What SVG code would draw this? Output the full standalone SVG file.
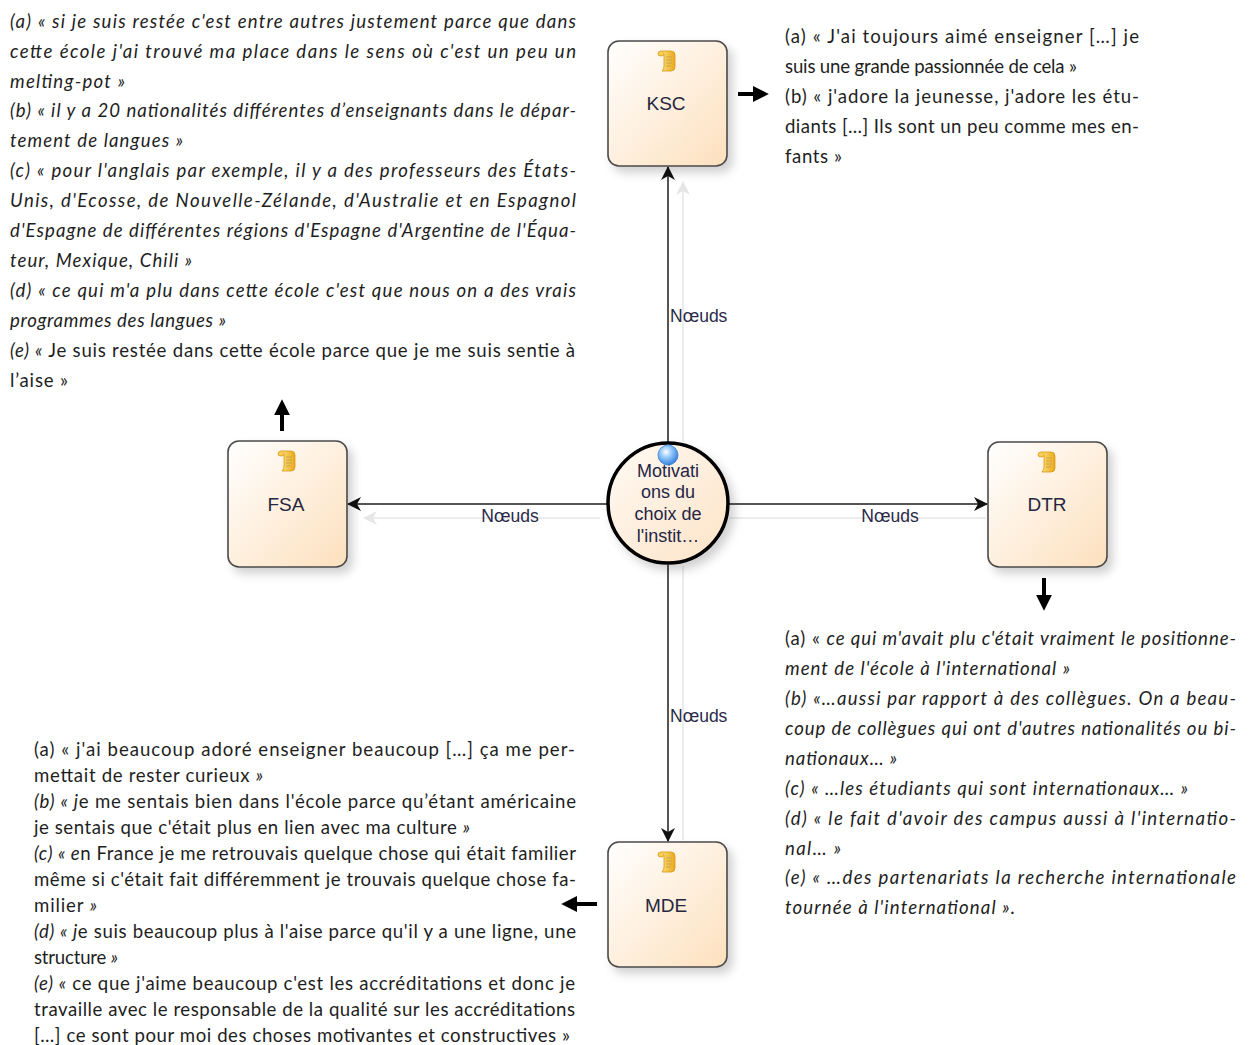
<svg xmlns="http://www.w3.org/2000/svg" width="1250" height="1045" viewBox="0 0 1250 1045">
<style>
.q{font-family:Lato,"Open Sans","Liberation Sans",sans-serif;font-size:18.6px;fill:#1e1e1e}
.i{font-style:italic}
.n{font-style:normal}
.lbl{font-family:"Liberation Sans",Arial,sans-serif;font-size:19px;fill:#262640;text-anchor:middle}
.clbl{font-family:"Liberation Sans",Arial,sans-serif;font-size:18px;fill:#252545;text-anchor:middle}
.edge{font-family:"Liberation Sans",Arial,sans-serif;font-size:17.5px;fill:#2a2a48}
.box{fill:url(#boxg);stroke:#4a4a4a;stroke-width:1.6}
.con{stroke:#555;stroke-width:2;fill:none}
.ghost{stroke:#ececec;stroke-width:2;fill:none}
.big{stroke:#000;stroke-width:4;fill:none}
</style>
<defs>
<linearGradient id="boxg" x1="0" y1="0" x2="1" y2="1">
<stop offset="0" stop-color="#ffffff"/>
<stop offset="1" stop-color="#fde0bd"/>
</linearGradient>
<linearGradient id="circg" x1="0" y1="0" x2="1" y2="1">
<stop offset="0" stop-color="#fffaf4"/>
<stop offset="1" stop-color="#fde3c6"/>
</linearGradient>
<linearGradient id="docg" x1="0" y1="0" x2="1" y2="0">
<stop offset="0" stop-color="#fbe07a"/>
<stop offset="1" stop-color="#e9a91c"/>
</linearGradient>
<radialGradient id="ball" cx="0.4" cy="0.35" r="0.7">
<stop offset="0" stop-color="#ffffff"/>
<stop offset="0.35" stop-color="#9fd0ff"/>
<stop offset="1" stop-color="#2a78d8"/>
</radialGradient>
<filter id="sh" x="-20%" y="-20%" width="150%" height="150%">
<feDropShadow dx="5" dy="6" stdDeviation="5" flood-color="#000" flood-opacity="0.18"/>
</filter>
<marker id="ah" viewBox="0 0 14 14" refX="13" refY="7" markerWidth="14" markerHeight="14" markerUnits="userSpaceOnUse" orient="auto">
<path d="M0,0 L14,7 L0,14 L4,7 Z" fill="#111"/>
</marker>
<marker id="ahg" viewBox="0 0 14 14" refX="13" refY="7" markerWidth="14" markerHeight="14" markerUnits="userSpaceOnUse" orient="auto">
<path d="M0,0 L14,7 L0,14 L4,7 Z" fill="#e6e6e6"/>
</marker>
<marker id="bh" viewBox="0 0 10 10" refX="2" refY="5" markerWidth="16" markerHeight="16" markerUnits="userSpaceOnUse" orient="auto">
<path d="M0,0 L10,5 L0,10 Z" fill="#000"/>
</marker>
<symbol id="doc" viewBox="0 0 20 24">
<path d="M4,2 H14 Q18,2 18,6 V18 Q18,22 14,22 H5 Q7,20 7,17 V6 Q7,3 4,2 Z" fill="url(#docg)" stroke="#d89a18" stroke-width="0.8"/>
<path d="M4,2 Q1,2 1,5 Q1,7 4,7 Q7,7 7,5" fill="#f7cf55" stroke="#d89a18" stroke-width="0.8"/>
<path d="M9,8 H15 M9,11 H15 M9,14 H15 M9,17 H14" stroke="#c9a24a" stroke-width="0.9"/>
</symbol>
</defs>
<rect width="1250" height="1045" fill="#fff"/>

<g id="connectors">
<line class="ghost" x1="683" y1="442" x2="683" y2="182" marker-end="url(#ahg)"/>
<line class="ghost" x1="600" y1="518" x2="364" y2="518" marker-end="url(#ahg)"/>
<line class="ghost" x1="729" y1="518" x2="986" y2="518"/>
<line class="ghost" x1="683" y1="566" x2="683" y2="840"/>
<line class="con" x1="668" y1="442" x2="668" y2="167" marker-end="url(#ah)"/>
<line class="con" x1="607" y1="504" x2="348" y2="504" marker-end="url(#ah)"/>
<line class="con" x1="729" y1="504" x2="987" y2="504" marker-end="url(#ah)"/>
<line class="con" x1="668" y1="565" x2="668" y2="841" marker-end="url(#ah)"/>
<text class="edge" x="670" y="322">Nœuds</text>
<text class="edge" x="510" y="522" text-anchor="middle">Nœuds</text>
<text class="edge" x="890" y="522" text-anchor="middle">Nœuds</text>
<text class="edge" x="670" y="722">Nœuds</text>
</g>

<g id="pointers">
<line class="big" x1="738" y1="94" x2="756" y2="94" marker-end="url(#bh)"/>
<line class="big" x1="282" y1="431" x2="282" y2="412" marker-end="url(#bh)"/>
<line class="big" x1="1044" y1="578" x2="1044" y2="598" marker-end="url(#bh)"/>
<line class="big" x1="597" y1="904" x2="574" y2="904" marker-end="url(#bh)"/>
</g>

<g id="center">
<circle cx="668" cy="503" r="60" fill="url(#circg)" stroke="#000" stroke-width="3.5" filter="url(#sh)"/>
<text class="clbl" x="668" y="477">Motivati</text>
<text class="clbl" x="668" y="498">ons du</text>
<text class="clbl" x="668" y="520">choix de</text>
<text class="clbl" x="668" y="542">l'instit…</text>
<circle cx="668" cy="455" r="10" fill="url(#ball)" stroke="#3a7fd0" stroke-width="0.8"/>
</g>

<g id="ksc">
<rect class="box" x="608" y="41" width="119" height="125" rx="11" filter="url(#sh)"/>
<use href="#doc" x="657" y="49" width="20" height="24"/>
<text class="lbl" x="666" y="110">KSC</text>
</g>
<g id="fsa">
<rect class="box" x="228" y="441" width="119" height="126" rx="11" filter="url(#sh)"/>
<use href="#doc" x="277" y="449" width="20" height="24"/>
<text class="lbl" x="286" y="511">FSA</text>
</g>
<g id="dtr">
<rect class="box" x="988" y="442" width="119" height="125" rx="11" filter="url(#sh)"/>
<use href="#doc" x="1037" y="450" width="20" height="24"/>
<text class="lbl" x="1047" y="511">DTR</text>
</g>
<g id="mde">
<rect class="box" x="608" y="842" width="119" height="125" rx="11" filter="url(#sh)"/>
<use href="#doc" x="657" y="850" width="20" height="24"/>
<text class="lbl" x="666" y="912">MDE</text>
</g>

<g id="text-fsa" class="q">
<text class="i" x="10" y="28" textLength="566" lengthAdjust="spacing">(a) « si je suis restée c'est entre autres justement parce que dans</text>
<text class="i" x="10" y="58" textLength="566" lengthAdjust="spacing">cette école j'ai trouvé ma place dans le sens où c'est un peu un</text>
<text class="i" x="10" y="88" textLength="115" lengthAdjust="spacing">melting-pot »</text>
<text class="i" x="10" y="117" textLength="566" lengthAdjust="spacing">(b) « il y a 20 nationalités différentes d’enseignants dans le dépar-</text>
<text class="i" x="10" y="147" textLength="173" lengthAdjust="spacing">tement de langues »</text>
<text class="i" x="10" y="177" textLength="566" lengthAdjust="spacing">(c) « pour l'anglais par exemple, il y a des professeurs des États-</text>
<text class="i" x="10" y="207" textLength="566" lengthAdjust="spacing">Unis, d'Ecosse, de Nouvelle-Zélande, d'Australie et en Espagnol</text>
<text class="i" x="10" y="237" textLength="566" lengthAdjust="spacing">d'Espagne de différentes régions d'Espagne d'Argentine de l'Équa-</text>
<text class="i" x="10" y="267" textLength="182" lengthAdjust="spacing">teur, Mexique, Chili »</text>
<text class="i" x="10" y="297" textLength="566" lengthAdjust="spacing">(d) « ce qui m'a plu dans cette école c'est que nous on a des vrais</text>
<text class="i" x="10" y="327" textLength="216" lengthAdjust="spacing">programmes des langues »</text>
<text x="10" y="357" textLength="565" lengthAdjust="spacing"><tspan class="i">(e) «</tspan> Je suis restée dans cette école parce que je me suis sentie à</text>
<text x="10" y="387" textLength="58" lengthAdjust="spacing">l’aise »</text>
</g>

<g id="text-ksc" class="q">
<text x="785" y="43" textLength="354" lengthAdjust="spacing">(a) « J'ai toujours aimé enseigner […] je</text>
<text x="785" y="73" textLength="292" lengthAdjust="spacing">suis une grande passionnée de cela »</text>
<text x="785" y="103" textLength="354" lengthAdjust="spacing">(b) « j'adore la jeunesse, j'adore les étu-</text>
<text x="785" y="133" textLength="354" lengthAdjust="spacing">diants […] Ils sont un peu comme mes en-</text>
<text x="785" y="163" textLength="57" lengthAdjust="spacing">fants »</text>
</g>

<g id="text-dtr" class="q">
<text x="785" y="645" textLength="451" lengthAdjust="spacing">(a) « <tspan class="i">ce qui m'avait plu c'était vraiment le positionne-</tspan></text>
<text class="i" x="785" y="675" textLength="285" lengthAdjust="spacing">ment de l'école à l'international »</text>
<text class="i" x="785" y="705" textLength="451" lengthAdjust="spacing">(b) «…aussi par rapport à des collègues. On a beau-</text>
<text class="i" x="785" y="735" textLength="451" lengthAdjust="spacing">coup de collègues qui ont d'autres nationalités ou bi-</text>
<text class="i" x="785" y="765" textLength="112" lengthAdjust="spacing">nationaux… »</text>
<text class="i" x="785" y="795" textLength="403" lengthAdjust="spacing">(c) « …les étudiants qui sont internationaux… »</text>
<text class="i" x="785" y="825" textLength="451" lengthAdjust="spacing">(d) « le fait d'avoir des campus aussi à l'internatio-</text>
<text class="i" x="785" y="855" textLength="56" lengthAdjust="spacing">nal… »</text>
<text class="i" x="785" y="884" textLength="451" lengthAdjust="spacing">(e) « …des partenariats la recherche internationale</text>
<text class="i" x="785" y="914" textLength="230" lengthAdjust="spacing">tournée à l'international ».</text>
</g>

<g id="text-mde" class="q">
<text x="34" y="756" textLength="541" lengthAdjust="spacing">(a) « j'ai beaucoup adoré enseigner beaucoup […] ça me per-</text>
<text x="34" y="782" textLength="229" lengthAdjust="spacing">mettait de rester curieux <tspan class="i">»</tspan></text>
<text x="34" y="808" textLength="542" lengthAdjust="spacing"><tspan class="i">(b) « j</tspan>e me sentais bien dans l'école parce qu’étant américaine</text>
<text x="34" y="834" textLength="436" lengthAdjust="spacing">je sentais que c'était plus en lien avec ma culture <tspan class="i">»</tspan></text>
<text x="34" y="860" textLength="542" lengthAdjust="spacing"><tspan class="i">(c) « e</tspan>n France je me retrouvais quelque chose qui était familier</text>
<text x="34" y="886" textLength="542" lengthAdjust="spacing">même si c'était fait différemment je trouvais quelque chose fa-</text>
<text x="34" y="912" textLength="63" lengthAdjust="spacing">milier <tspan class="i">»</tspan></text>
<text x="34" y="938" textLength="542" lengthAdjust="spacing"><tspan class="i">(d) « j</tspan>e suis beaucoup plus à l'aise parce qu'il y a une ligne, une</text>
<text x="34" y="964" textLength="84" lengthAdjust="spacing">structure <tspan class="i">»</tspan></text>
<text x="34" y="990" textLength="541" lengthAdjust="spacing"><tspan class="i">(e) «</tspan> ce que j'aime beaucoup c'est les accréditations et donc je</text>
<text x="34" y="1016" textLength="541" lengthAdjust="spacing">travaille avec le responsable de la qualité sur les accréditations</text>
<text x="34" y="1042" textLength="536" lengthAdjust="spacing">[…] ce sont pour moi des choses motivantes et constructives »</text>
</g>
</svg>
